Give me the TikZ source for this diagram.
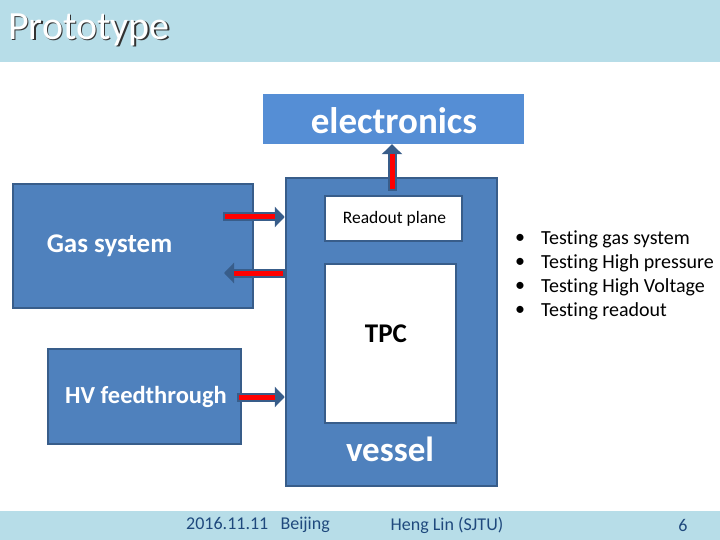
\documentclass[tikz,border=0pt]{standalone}
\usepackage{fontspec}
\setmainfont{Carlito}[Ligatures=NoCommon]
\usepackage{tikz}
\usetikzlibrary{arrows.meta, positioning, calc}
\definecolor{barra}{HTML}{B7DDE8}
\definecolor{caixa}{HTML}{4F81BD}
\definecolor{borda}{HTML}{385D8A}
\definecolor{eletr}{HTML}{558ED5}
\definecolor{rodape}{HTML}{1F497D}

\begin{document}
\begin{tikzpicture}[x=1pt,y=-1pt,
    bloco/.style={rectangle,draw=borda,line width=2.5pt,fill=caixa,inner sep=0},
    janela/.style={rectangle,draw=borda,line width=2pt,fill=white,inner sep=0},
    rotulo/.style={text=white,font=\bfseries\fontsize{23}{26}\selectfont,inner sep=0},
    seta/.style={draw=borda,line width=9pt,-{Triangle[width=20pt,length=10pt]},
      postaction={draw=red,line width=5pt,-,shorten >=10pt,shorten <=2pt}},
    topico/.style={anchor=west,font=\fontsize{20}{24}\selectfont,inner sep=0}]

  \useasboundingbox (0,0) rectangle (720,540);
  % faixas de titulo e rodape
  \fill[barra] (0,0) rectangle (720,62);
  \fill[barra] (0,511) rectangle (720,540);
  \node[anchor=west,inner sep=0,text=black!80,font=\fontsize{40}{44}\selectfont] (sombra) at (9.2,31.2) {Prototype};
  \node[anchor=west,inner sep=0,text=white,font=\fontsize{40}{44}\selectfont] (titulo) at (8,30) {Prototype};

  % caixas
  \node[rectangle,fill=eletr,minimum width=261pt,minimum height=50pt,inner sep=0] (elec) at (393.5,119) {};
  \node[rotulo,font=\bfseries\fontsize{37}{40}\selectfont] (electxt) at (394,121) {electronics};
  \node[bloco,minimum width=240pt,minimum height=124pt] (gas) at (133,246) {};
  \node[rotulo,font=\bfseries\fontsize{27}{30}\selectfont] (gastxt) at (109.5,246) {Gas system};
  \node[bloco,minimum width=193pt,minimum height=95pt] (hv) at (144.5,396.5) {};
  \node[rotulo,font=\bfseries\fontsize{24.5}{28}\selectfont] (hvtxt) at (146,397) {HV feedthrough};
  \node[bloco,minimum width=211pt,minimum height=308pt] (vessel) at (391.5,332) {};
  \node[rotulo,font=\bfseries\fontsize{35}{38}\selectfont] (vesseltxt) at (390,449) {vessel};
  \node[janela,minimum width=137pt,minimum height=45pt,font=\fontsize{17.5}{20}\selectfont] (readout) at (393.5,218.5) {\hspace{2pt}Readout plane};
  \node[janela,minimum width=131pt,minimum height=159pt] (tpc) at (390.5,343.5) {};
  \node[inner sep=0,font=\bfseries\fontsize{27}{30}\selectfont] (tpctxt) at (386,334) {TPC};

  % setas
  \coordinate (g1) at (223,217);
  \coordinate (g2) at (224,273);
  \coordinate (h1) at (237,397);
  \coordinate (r1) at (392,191);
  \draw[seta] (g1) -- (g1 -| vessel.west);
  \draw[seta] (g2 -| vessel.west) -- (g2);
  \draw[seta] (h1) -- (h1 -| vessel.west);
  \draw[seta] (r1) -- (r1 |- elec.south);

  % lista de testes
  \foreach \t [count=\n] in {Testing gas system,Testing High pressure,Testing High Voltage,Testing readout} {
    \node[topico] (b\n) at (515,{215+24*\n}) {\textbullet};
    \node[topico] (t\n) at (541,{215+24*\n}) {\t};
  }

  % rodape
  \node[text=rodape,font=\fontsize{18}{20}\selectfont] (data) at (258,525) {2016.11.11\ \ \ Beijing};
  \node[text=rodape,font=\fontsize{18}{20}\selectfont] (autor) at (447,525) {Heng Lin (SJTU)};
  \node[text=rodape,font=\fontsize{18}{20}\selectfont] (pagina) at (683,525) {6};
\end{tikzpicture}
\end{document}
